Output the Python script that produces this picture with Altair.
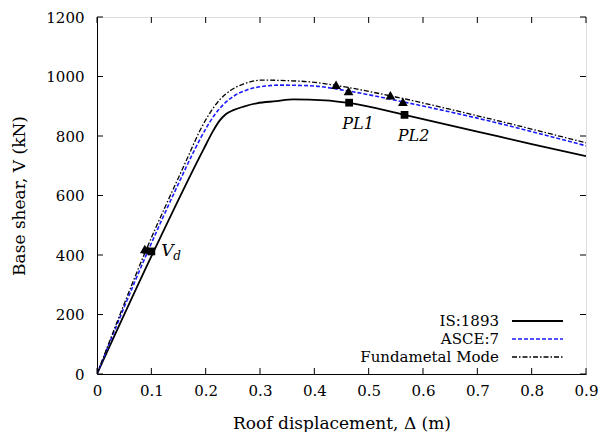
import altair as alt
import pandas as pd

# --- data ---
is_x = [0, 0.10, 0.196, 0.214, 0.225, 0.237, 0.251, 0.27, 0.294, 0.33, 0.361, 0.42, 0.464, 0.566, 0.70, 0.80, 0.90]
is_y = [0, 395, 755, 818, 850, 873, 887, 899, 910, 917, 923, 920, 911, 871, 815, 773, 732]

asce_x = [0, 0.093, 0.15, 0.18, 0.202, 0.218, 0.235, 0.255, 0.276, 0.31, 0.337, 0.392, 0.463, 0.563, 0.70, 0.90]
asce_y = [0, 410, 640, 755, 830, 875, 910, 938, 955, 968, 971, 969, 951, 915, 860, 767]

fm_x = [0, 0.09, 0.165, 0.19, 0.208, 0.226, 0.25, 0.27, 0.306, 0.35, 0.392, 0.44, 0.54, 0.70, 0.90]
fm_y = [0, 415, 720, 820, 878, 922, 958, 975, 988, 986, 982, 970, 935, 868, 777]

tri_x = [0.088, 0.093, 0.44, 0.463, 0.54, 0.563]
tri_y = [420, 418, 972, 951, 937, 915]
sq_x = [0.10, 0.464, 0.566]
sq_y = [412, 912, 871]

x_ticks = [0, 0.1, 0.2, 0.3, 0.4, 0.5, 0.6, 0.7, 0.8, 0.9]
y_ticks = [0, 200, 400, 600, 800, 1000, 1200]

legend_labels = ["IS:1893", "ASCE:7", "Fundametal Mode"]

W, H = 489, 357
FONT = "DejaVu Serif"

def line_df(xs, ys):
    return pd.DataFrame({"x": xs, "y": ys, "o": list(range(len(xs)))})

xs = alt.Scale(domain=[0, 0.9], nice=False, zero=False)
ys = alt.Scale(domain=[0, 1200], nice=False, zero=False)

xaxis = alt.Axis(values=x_ticks, ticks=False, grid=False, labelPadding=9,
                 labelFontSize=15, labelFont=FONT, labelColor="black",
                 title="Roof displacement, Δ (m)", titleFont=FONT, titleFontSize=17,
                 titleFontWeight="normal", titleColor="black", titlePadding=17,
                 domainColor="black", labelFlush=False, format="~g")
yaxis = alt.Axis(values=y_ticks, ticks=False, grid=False, labelPadding=13,
                 labelFontSize=15, labelFont=FONT, labelColor="black",
                 title="Base shear, V (kN)", titleFont=FONT, titleFontSize=17,
                 titleFontWeight="normal", titleColor="black", titlePadding=17,
                 domainColor="black", labelFlush=False, format="d")

def mk_line(df, color, dash, width):
    kw = dict(color=color, strokeWidth=width, clip=True, interpolate="monotone")
    if dash:
        kw["strokeDash"] = dash
    return alt.Chart(df).mark_line(**kw).encode(
        x=alt.X("x:Q", scale=xs, axis=xaxis),
        y=alt.Y("y:Q", scale=ys, axis=yaxis),
        order="o:Q",
    )

FM_DASH = [5, 2, 1.5, 2]
l_is = mk_line(line_df(is_x, is_y), "black", None, 1.8)
l_asce = mk_line(line_df(asce_x, asce_y), "#1a1aff", [4, 2], 1.6)
l_fm = mk_line(line_df(fm_x, fm_y), "black", FM_DASH, 1.3)

tri = alt.Chart(pd.DataFrame({"x": tri_x, "y": tri_y})).mark_point(
    shape="triangle-up", filled=True, color="black", size=95, opacity=1
).encode(x=alt.X("x:Q", scale=xs), y=alt.Y("y:Q", scale=ys))
sq = alt.Chart(pd.DataFrame({"x": sq_x, "y": sq_y})).mark_point(
    shape="square", filled=True, color="black", size=60, opacity=1
).encode(x=alt.X("x:Q", scale=xs), y=alt.Y("y:Q", scale=ys))

# annotations anchored to square markers
ann = pd.DataFrame({"x": sq_x, "y": sq_y, "t": ["V", "PL1", "PL2"]})
vd = alt.Chart(ann.iloc[[0]]).mark_text(
    font=FONT, fontSize=17, fontStyle="italic", align="left", baseline="middle", dx=10, dy=0
).encode(x=alt.X("x:Q", scale=xs), y=alt.Y("y:Q", scale=ys), text="t:N")
vd_sub = alt.Chart(pd.DataFrame({"x": [sq_x[0]], "y": [sq_y[0]], "t": ["d"]})).mark_text(
    font=FONT, fontSize=12, fontStyle="italic", align="left", baseline="middle", dx=22, dy=5
).encode(x=alt.X("x:Q", scale=xs), y=alt.Y("y:Q", scale=ys), text="t:N")
pl = alt.Chart(ann.iloc[[1, 2]]).mark_text(
    font=FONT, fontSize=16, fontStyle="italic", align="center", baseline="middle", dx=9, dy=21
).encode(x=alt.X("x:Q", scale=xs), y=alt.Y("y:Q", scale=ys), text="t:N")

# inward ticks (bottom/top/left/right)
xt = pd.DataFrame({"v": x_ticks})
yt = pd.DataFrame({"v": y_ticks})
tb = alt.Chart(xt).mark_rule(color="black", strokeWidth=1).encode(
    x=alt.X("v:Q", scale=xs), y=alt.value(H), y2=alt.value(H - 6))
tt = alt.Chart(xt).mark_rule(color="black", strokeWidth=1).encode(
    x=alt.X("v:Q", scale=xs), y=alt.value(0), y2=alt.value(6))
tl = alt.Chart(yt).mark_rule(color="black", strokeWidth=1).encode(
    y=alt.Y("v:Q", scale=ys), x=alt.value(0), x2=alt.value(6))
tr = alt.Chart(yt).mark_rule(color="black", strokeWidth=1).encode(
    y=alt.Y("v:Q", scale=ys), x=alt.value(W), x2=alt.value(W - 6))

# legend (manual, text left of line sample)
leg_layers = []
styles = [("black", None, 1.8), ("#1a1aff", [4, 2], 1.6), ("black", FM_DASH, 1.3)]
for i, (lab, (c, d, w)) in enumerate(zip(legend_labels, styles)):
    ypix = 304 + 18 * i
    one = pd.DataFrame({"t": [lab]})
    leg_layers.append(alt.Chart(one).mark_text(
        font=FONT, fontSize=15, align="right", baseline="middle", color="black"
    ).encode(x=alt.value(402), y=alt.value(ypix), text="t:N"))
    kw = dict(color=c, strokeWidth=w)
    if d:
        kw["strokeDash"] = d
    leg_layers.append(alt.Chart(one).mark_rule(**kw).encode(
        x=alt.value(415), x2=alt.value(466), y=alt.value(ypix)))

chart = alt.layer(
    l_is, l_asce, l_fm, tri, sq, vd, vd_sub, pl, tb, tt, tl, tr, *leg_layers
).properties(
    width=W, height=H,
    autosize=alt.AutoSizeParams(type="none"),
    padding={"left": 89, "top": 9, "right": 18, "bottom": 58},
).configure_view(stroke="black", strokeWidth=1.2).configure(background="white")

chart.save("out.html", embed_options={"renderer": "svg", "actions": False})
